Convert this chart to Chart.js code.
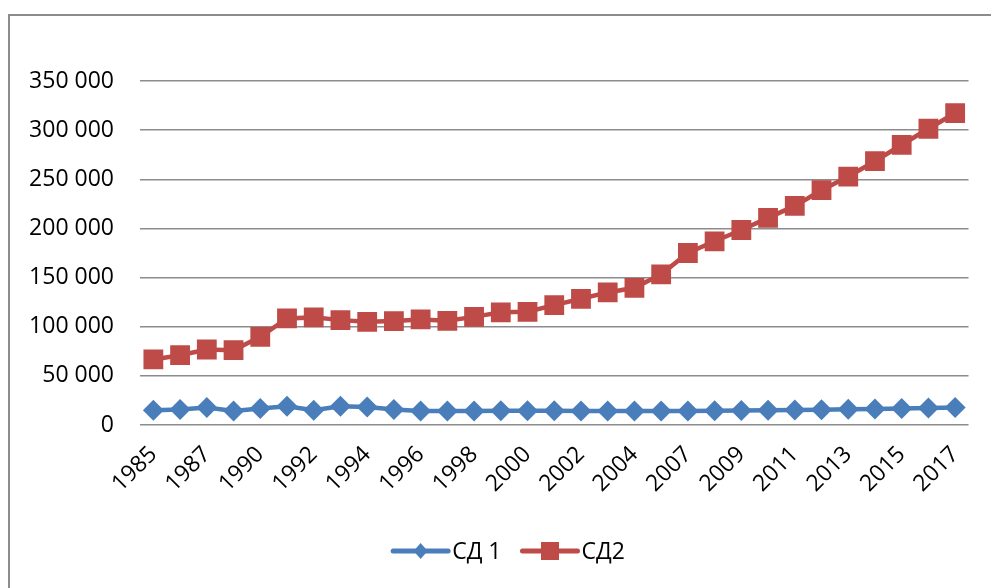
<!DOCTYPE html>
<html>
<head>
<meta charset="utf-8">
<script src="https://cdn.jsdelivr.net/npm/chart.js@4/dist/chart.umd.min.js"></script>
<style>
  html, body { margin: 0; padding: 0; background: #fff; overflow: hidden; }
  #wrap { position: relative; width: 991px; height: 588px; }
  #chart { position: absolute; left: 0; top: 0; }
  #frame {
    position: absolute; left: 8px; top: 14px; width: 1000px; height: 600px;
    border-left: 2px solid #8c8c8c; border-top: 2px solid #8c8c8c;
    pointer-events: none;
  }
</style>
</head>
<body>
<div id="wrap">
  <canvas id="chart" width="991" height="588"></canvas>
  <div id="frame"></div>
</div>
<script>
// Years on the category axis
const years = [
  '1985', '1986', '1987', '1988', '1990', '1991', '1992', '1993', '1994', '1995',
  '1996', '1997', '1998', '1999', '2000', '2001', '2002', '2003', '2004', '2005',
  '2007', '2008', '2009', '2010', '2011', '2012', '2013', '2014', '2015', '2016', '2017'
];

// Series names
const seriesNames = ['СД 1', 'СД2'];

// СД 1 values
const sd1 = [
  15000, 15700, 17700, 14300, 16700, 19000, 15000, 19000, 18300, 15700,
  14300, 14300, 14300, 14500, 14500, 14500, 14300, 14300, 14300, 14300,
  14300, 14500, 14800, 15000, 15300, 15600, 16000, 16400, 16800, 17200, 17700
];

// СД2 values
const sd2 = [
  66700, 71000, 76800, 76100, 89700, 108400, 109500, 106700, 105000, 105700,
  107400, 106000, 110000, 114600, 115200, 122000, 128400, 134900, 139600, 153300,
  175000, 186900, 198400, 210700, 222900, 238900, 252800, 268400, 285100, 301400, 317400
];

// Value axis range
const yMin = 0;
const yMax = 350000;
const yStep = 50000;

const FONT = '"Open Sans", Lato, sans-serif';
const FONT_SIZE = 23;
const BLUE = '#4a7ebb';
const RED = '#be4b48';
const GRID = '#8c8c8c';
const LEGEND_CENTER_X = 509;
const LEGEND_CENTER_Y = 551;

function spaced(v) {
  return String(v).replace(/\B(?=(\d{3})+(?!\d))/g, ' ');
}

// Legend drawn as line + marker, like an office chart legend
const lineLegend = {
  id: 'lineLegend',
  afterDraw(chart) {
    const ctx = chart.ctx;
    const cy = LEGEND_CENTER_Y;
    const lineLen = 55;
    const gap = 4;
    const itemGap = 21;
    ctx.save();
    ctx.font = FONT_SIZE + 'px ' + FONT;
    const items = chart.data.datasets.map(ds => ({
      ds, w: lineLen + gap + ctx.measureText(ds.label).width
    }));
    const total = items.reduce((s, it) => s + it.w, 0) + itemGap * (items.length - 1);
    let x = LEGEND_CENTER_X - total / 2;
    items.forEach(it => {
      const ds = it.ds;
      ctx.strokeStyle = ds.borderColor;
      ctx.lineWidth = 5;
      ctx.lineCap = 'round';
      ctx.beginPath();
      ctx.moveTo(x, cy);
      ctx.lineTo(x + lineLen, cy);
      ctx.stroke();
      const mx = x + lineLen / 2;
      ctx.fillStyle = ds.pointBackgroundColor;
      ctx.beginPath();
      if (ds.pointStyle === 'rectRot') {
        ctx.moveTo(mx, cy - 8);
        ctx.lineTo(mx + 7, cy);
        ctx.lineTo(mx, cy + 8);
        ctx.lineTo(mx - 7, cy);
        ctx.closePath();
      } else {
        ctx.rect(mx - 9, cy - 9, 18, 18);
      }
      ctx.fill();
      ctx.fillStyle = '#000';
      ctx.textBaseline = 'middle';
      ctx.textAlign = 'left';
      ctx.fillText(ds.label, x + lineLen + gap, cy + 1);
      x += it.w + itemGap;
    });
    ctx.restore();
  }
};

new Chart(document.getElementById('chart'), {
  type: 'line',
  data: {
    labels: years,
    datasets: [
      {
        label: seriesNames[0],
        data: sd1,
        borderColor: BLUE,
        backgroundColor: BLUE,
        pointBackgroundColor: BLUE,
        pointBorderColor: BLUE,
        borderWidth: 4.5,
        pointStyle: 'rectRot',
        pointRadius: 10.5,
        pointBorderWidth: 0,
        tension: 0
      },
      {
        label: seriesNames[1],
        data: sd2,
        borderColor: RED,
        backgroundColor: RED,
        pointBackgroundColor: RED,
        pointBorderColor: RED,
        borderWidth: 4.5,
        pointStyle: 'rect',
        pointRadius: 14,
        pointBorderWidth: 0,
        tension: 0
      }
    ]
  },
  options: {
    responsive: false,
    animation: false,
    layout: { padding: { left: 10, right: 21, top: 81, bottom: 55 } },
    plugins: {
      legend: { display: false },
      tooltip: { enabled: false }
    },
    scales: {
      x: {
        offset: true,
        grid: { display: false, drawTicks: false },
        border: { display: false },
        ticks: {
          autoSkip: false,
          minRotation: 45,
          maxRotation: 45,
          padding: 16,
          color: '#000',
          font: { family: FONT, size: FONT_SIZE },
          callback: function (value, index) {
            return index % 2 === 0 ? this.getLabelForValue(value) : '';
          }
        },
        afterFit(scale) { scale.height = 108; }
      },
      y: {
        min: yMin,
        max: yMax,
        grid: { color: GRID, lineWidth: 1.5, drawTicks: false },
        border: { display: false },
        ticks: {
          stepSize: yStep,
          padding: 26,
          color: '#000',
          font: { family: FONT, size: FONT_SIZE },
          callback: v => spaced(v)
        },
        afterFit(scale) { scale.width = 130; }
      }
    }
  },
  plugins: [lineLegend]
});
</script>
</body>
</html>
